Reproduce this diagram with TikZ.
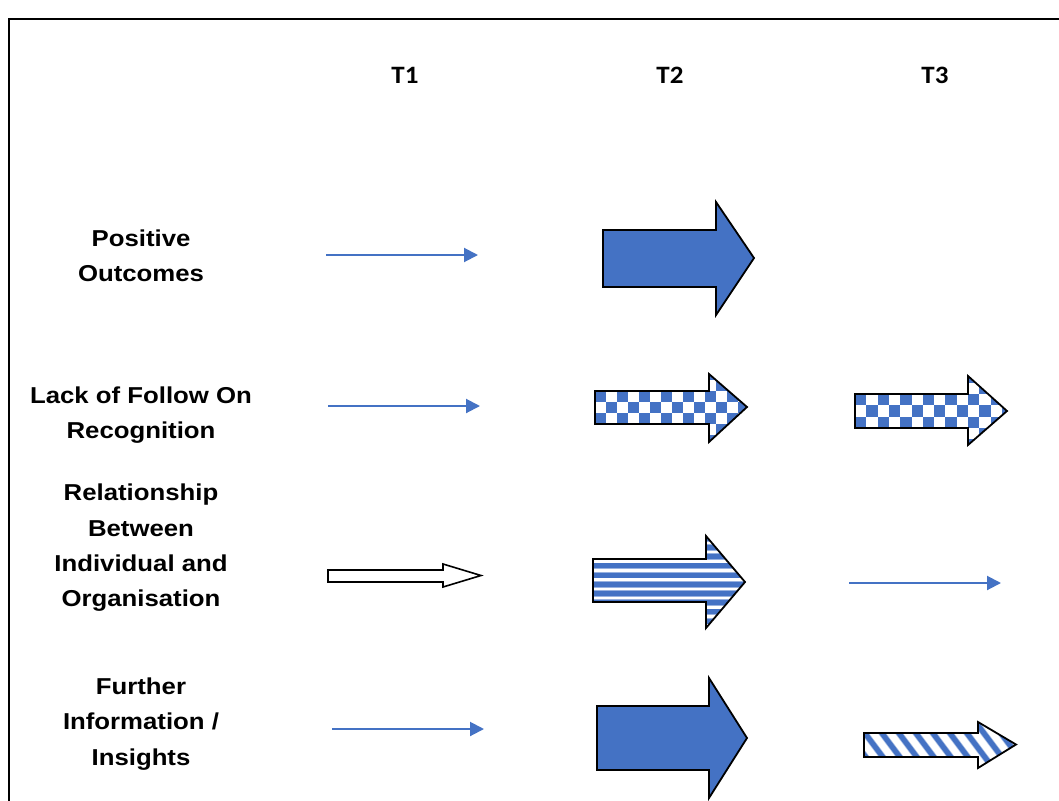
\documentclass[tikz,border=0pt]{standalone}
\usepackage{fontspec}
\setmainfont{Liberation Sans}
\newfontfamily\labfont[FakeStretch=1.12]{Liberation Sans}
\newfontfamily\tfont[FakeStretch=1.08]{Carlito}
\usetikzlibrary{arrows.meta}
\definecolor{ablue}{HTML}{4472C4}
% #1 options, #2 left x, #3 head base x, #4 tip x, #5 body top, #6 body bottom, #7 head top, #8 head bottom, #9 tip y
\newcommand\barrow[9]{\path[#1] (#2,#5) -- (#3,#5) -- (#3,#7) -- (#4,#9) -- (#3,#8) -- (#3,#6) -- (#2,#6) -- cycle;}
\tikzset{
  lab/.style={font=\labfont\bfseries\fontsize{23}{35.3}\selectfont, align=center, inner sep=0pt},
  tlab/.style={font=\tfont\bfseries\fontsize{25}{28}\selectfont, inner sep=0pt},
  thin/.style={draw=ablue, line width=2pt, -{Triangle[length=14pt,width=14pt]}},
  outl/.style={draw=black, line width=1.8pt, line join=miter},
}
\begin{document}
\begin{tikzpicture}[x=1pt,y=-1pt]
\useasboundingbox (0,0) rectangle (1059,800);
\fill[white] (0,0) rectangle (1059,800);
% frame
\draw[line width=2.7pt] (9,815) -- (9,19) -- (1075,19);

% column headers
\node[tlab] (t1) at (405,75) {T1};
\node[tlab] (t2) at (670,75) {T2};
\node[tlab] (t3) at (935,75) {T3};

% row labels
\node[lab] (l1) at (141,256) {Positive\\Outcomes};
\node[lab] (l2) at (141,415) {Lack of Follow On\\Recognition};
\node[lab] (l3) at (141,548) {Relationship\\Between\\Individual and\\Organisation};
\node[lab] (l4) at (141,724) {Further\\Information /\\Insights};

% thin arrows
\coordinate (a1s) at (326,255); \coordinate (a1e) at (478,255);
\coordinate (a2s) at (328,406); \coordinate (a2e) at (480,406);
\coordinate (a3s) at (849,583); \coordinate (a3e) at (1001,583);
\coordinate (a4s) at (332,729); \coordinate (a4e) at (484,729);
\draw[thin] (a1s) -- (a1e);
\draw[thin] (a2s) -- (a2e);
\draw[thin] (a3s) -- (a3e);
\draw[thin] (a4s) -- (a4e);

% solid block arrows
\barrow{fill=ablue, outl}{603}{716}{754}{230}{287}{202}{315}{258}
\barrow{fill=ablue, outl}{597}{709}{747}{706}{770}{678}{798}{738}

% hollow arrow row 3 T1
\barrow{fill=white, outl, line width=1.6pt}{328}{443}{481}{570}{582}{564}{587}{575.5}

% checkered T2 row 2
\begin{scope}
\barrow{clip}{595}{709}{747}{391}{424}{374}{442}{407}
\fill[white] (590,370) rectangle (750,445);
\foreach \i in {0,...,14}{\foreach \j in {-2,...,4}{
  \pgfmathtruncatemacro\p{mod(\i+\j+20,2)}
  \ifnum\p=0 \fill[ablue] ({595+\i*11},{391+\j*11}) rectangle ++(11,11);\fi}}
\end{scope}
\barrow{outl}{595}{709}{747}{391}{424}{374}{442}{407}

% checkered T3 row 2
\begin{scope}
\barrow{clip}{855}{968}{1007}{394}{428}{376}{445}{411}
\fill[white] (850,370) rectangle (1010,450);
\foreach \i in {0,...,14}{\foreach \j in {-2,...,4}{
  \pgfmathtruncatemacro\p{mod(\i+\j+20,2)}
  \ifnum\p=0 \fill[ablue] ({855+\i*11.3},{394+\j*11.3}) rectangle ++(11.3,11.3);\fi}}
\end{scope}
\barrow{outl}{855}{968}{1007}{394}{428}{376}{445}{411}

% horizontal stripes T2 row 3
\begin{scope}
\barrow{clip}{593}{706}{745}{559}{602}{536}{628}{582}
\fill[white] (590,530) rectangle (750,630);
\foreach \k in {-3,...,8}{
  \fill[ablue!55] (590,{563.3+\k*9.2-0.8}) rectangle (750,{563.3+\k*9.2+5.8});
  \fill[ablue] (590,{563.3+\k*9.2}) rectangle (750,{563.3+\k*9.2+5});}
\end{scope}
\barrow{outl}{593}{706}{745}{559}{602}{536}{628}{582}

% diagonal stripes T3 row 4
\begin{scope}
\barrow{clip}{864}{978}{1016}{733}{757}{722}{768}{744.5}
\fill[white] (860,715) rectangle (1020,772);
\foreach \k in {-4,...,10}{
  \draw[ablue!50, line width=6.5pt] ({866+\k*17},712) -- ++(45,60);
  \draw[ablue, line width=5pt] ({866+\k*17},712) -- ++(45,60);}
\end{scope}
\barrow{outl}{864}{978}{1016}{733}{757}{722}{768}{744.5}
\end{tikzpicture}
\end{document}
